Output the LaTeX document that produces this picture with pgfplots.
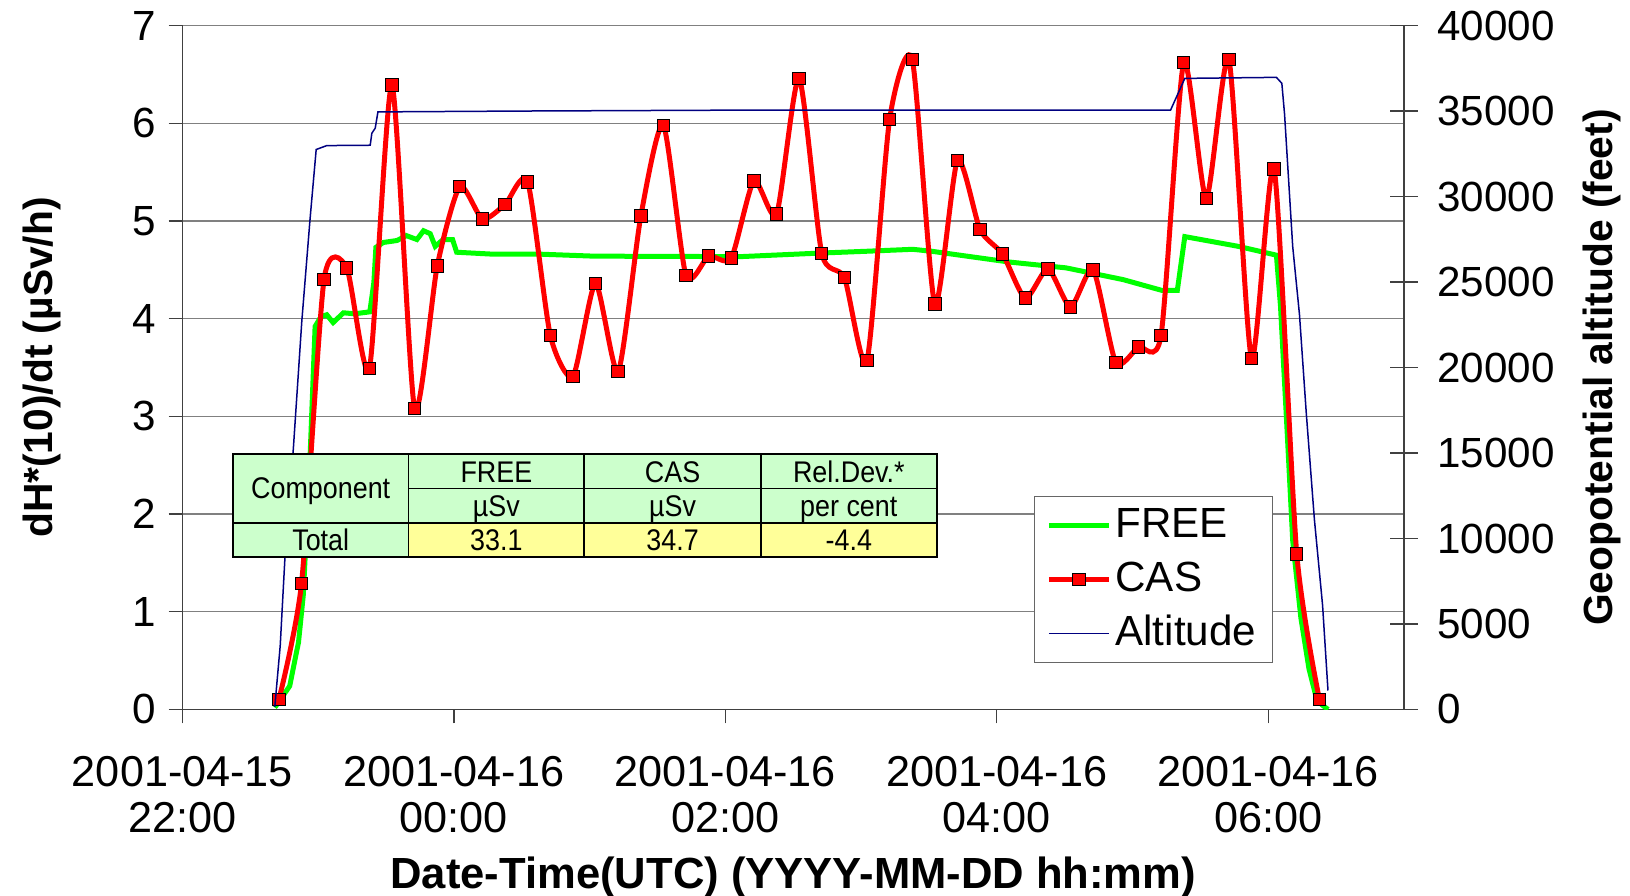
\documentclass[border=0pt]{standalone}
\usepackage{pgfplots}
\pgfplotsset{compat=1.18}
\usepackage{fontspec}
\setmainfont{Liberation Sans}
\newfontfamily\narrowfont[FakeStretch=0.9]{Liberation Sans}

\definecolor{freegreen}{RGB}{0,255,0}
\definecolor{casred}{RGB}{255,0,0}
\definecolor{altblue}{RGB}{0,0,128}
\definecolor{tabgreen}{RGB}{204,255,204}
\definecolor{tabyellow}{RGB}{255,255,153}
\definecolor{gridgray}{RGB}{128,128,128}

\begin{document}
\begin{tikzpicture}
% left axis: dose rates
\begin{axis}[
    scale only axis, width=122.15mm, height=68.39mm,
    xmin=0, xmax=9, ymin=0, ymax=7,
    axis x line*=bottom, axis y line*=left,
    axis line style={-, draw=black!75, line width=0.15mm},
    xtick={0,2,4,6,8},
    xticklabels={{2001-04-15\\22:00},{2001-04-16\\00:00},{2001-04-16\\02:00},{2001-04-16\\04:00},{2001-04-16\\06:00}},
    xticklabel style={align=center, font=\fontsize{12.3}{13.3}\selectfont, yshift=-2mm},
    ytick={0,1,...,7},
    yticklabel style={font=\fontsize{12}{14}\selectfont},
    /pgf/number format/assume math mode=true,
    tick align=outside, major tick length=1.4mm,
    tick style={draw=black!75, line width=0.12mm},
    ymajorgrids, grid style={gridgray, line width=0.12mm},
    xlabel={Date-Time(UTC) (YYYY-MM-DD hh:mm)},
    xlabel style={font=\bfseries\fontsize{12.4}{14}\selectfont, at={(axis description cs:0.5,-0.2625)}, anchor=base},
    ylabel={dH*(10)/dt (µSv/h)},
    ylabel style={font=\bfseries\fontsize{11.6}{14}\selectfont, at={(axis description cs:-0.1153,0.5)}, anchor=center},
    legend style={at={(axis description cs:0.697,0.312)}, anchor=north west,
        draw=black!60, line width=0.12mm, fill=white,
        font=\fontsize{12}{14}\selectfont,
        inner xsep=1.2mm, inner ysep=0.6mm, row sep=0.8mm,
        nodes={text height=3.1mm, text depth=0.7mm, inner sep=0.4mm}},
    legend cell align=left,
]
\addplot[freegreen, line width=0.5mm] coordinates {
(0.68,0.02)(0.79,0.24)(0.855,0.69)(0.89,1.17)(0.94,2.59)(0.977,3.92)(1.02,4.02)
(1.063,4.04)(1.11,3.96)(1.186,4.06)(1.27,4.05)(1.38,4.07)(1.41,4.37)(1.425,4.73)
(1.48,4.78)(1.58,4.80)(1.65,4.85)(1.727,4.81)(1.776,4.90)(1.825,4.87)(1.862,4.74)
(1.92,4.81)(1.99,4.81)(2.02,4.68)(2.29,4.66)(2.64,4.66)(3.03,4.64)(4.11,4.635)
(4.675,4.67)(5.04,4.69)(5.38,4.71)(5.52,4.69)(6.09,4.58)(6.51,4.52)(6.93,4.40)
(7.215,4.29)(7.33,4.29)(7.385,4.84)(7.78,4.74)(8.06,4.65)(8.09,4.13)(8.14,2.82)
(8.18,1.73)(8.24,0.94)(8.30,0.415)(8.36,0.087)(8.44,0.0)
};
\addlegendentry{FREE}
\addplot[casred, line width=0.5mm, smooth, tension=0.4, mark=square*, mark size=0.62mm,
    mark options={fill=casred, draw=black, line width=0.1mm, solid}] coordinates {
(0.710,0.10)(0.877,1.29)(1.043,4.40)(1.210,4.52)(1.377,3.49)(1.543,6.39)(1.710,3.08)
(1.877,4.54)(2.043,5.35)(2.210,5.02)(2.377,5.17)(2.543,5.40)(2.710,3.83)(2.877,3.41)
(3.043,4.36)(3.210,3.46)(3.377,5.05)(3.543,5.98)(3.710,4.44)(3.877,4.64)(4.043,4.62)
(4.210,5.41)(4.377,5.07)(4.543,6.46)(4.710,4.67)(4.877,4.42)(5.043,3.57)(5.210,6.04)
(5.377,6.65)(5.543,4.15)(5.710,5.62)(5.877,4.91)(6.043,4.66)(6.210,4.21)(6.377,4.51)
(6.543,4.12)(6.710,4.50)(6.877,3.55)(7.043,3.71)(7.210,3.83)(7.377,6.62)(7.543,5.23)
(7.710,6.65)(7.877,3.59)(8.043,5.53)(8.210,1.59)(8.377,0.10)
};
\addlegendentry{CAS}
\addlegendimage{altblue, line width=0.15mm}
\addlegendentry{Altitude}
\coordinate (asw) at (rel axis cs:0,0);
\coordinate (ane) at (rel axis cs:1,1);
\coordinate (tsw) at (axis cs:0.371,1.559);
\end{axis}

% right axis: altitude
\begin{axis}[
    scale only axis, width=122.15mm, height=68.39mm,
    xmin=0, xmax=9, ymin=0, ymax=40000,
    axis x line=none, axis y line*=right,
    axis line style={-, draw=black!75, line width=0.15mm},
    ytick={0,5000,...,40000},
    scaled y ticks=false,
    /pgf/number format/1000 sep={},
    /pgf/number format/assume math mode=true,
    yticklabel style={font=\fontsize{12}{14}\selectfont, xshift=0.7mm},
    tick align=center, major tick length=2.8mm,
    tick style={draw=black!75, line width=0.12mm},
    ylabel={Geopotential altitude (feet)},
    ylabel style={font=\bfseries\fontsize{11.6}{14}\selectfont, at={(axis description cs:1.1621,0.5)}, anchor=center},
]
\addplot[altblue, line width=0.15mm] coordinates {
(0.68,150)(0.72,3730)(0.756,9050)(0.817,15290)(0.879,22700)(0.94,28700)(0.985,32750)
(1.063,32980)(1.383,33000)(1.395,33700)(1.42,34000)(1.44,34950)(2.5,35000)(4,35050)
(6,35050)(7.28,35050)(7.385,36910)(8.06,36970)(8.10,36620)(8.12,34820)(8.18,27080)
(8.23,23090)(8.28,17340)(8.34,11100)(8.40,6110)(8.44,1110)
};
\end{axis}

% summary table
\begin{scope}[shift={(tsw)}, x=1mm, y=1mm]
\fill[tabgreen] (0,0) rectangle (70.38,10.29);
\fill[tabyellow] (17.57,0) rectangle (70.38,3.43);
\draw[black, line width=0.22mm] (0,0) rectangle (70.38,10.29);
\draw[black, line width=0.22mm] (0,3.43) -- (70.38,3.43);
\draw[black, line width=0.18mm] (17.57,6.86) -- (70.38,6.86);
\foreach \xx in {17.57,35.14,52.81} \draw[black, line width=0.18mm] (\xx,0) -- (\xx,10.29);
\begin{scope}[every node/.style={font=\narrowfont\fontsize{8.5}{10}\selectfont, anchor=base, inner sep=0pt}]
\node at (8.785,5.86) {Component};
\node at (26.355,7.51) {FREE};
\node at (43.975,7.51) {CAS};
\node at (61.595,7.51) {Rel.Dev.*};
\node at (26.355,4.08) {µSv};
\node at (43.975,4.08) {µSv};
\node at (61.595,4.08) {per cent};
\node at (8.785,0.65) {Total};
\node at (26.355,0.65) {33.1};
\node at (43.975,0.65) {34.7};
\node at (61.595,0.65) {-4.4};
\end{scope}
\end{scope}

\pgfresetboundingbox
\path ([shift={(-18.25mm,-18.65mm)}]asw) rectangle ([shift={(22.6mm,2.56mm)}]ane);
\end{tikzpicture}
\end{document}
